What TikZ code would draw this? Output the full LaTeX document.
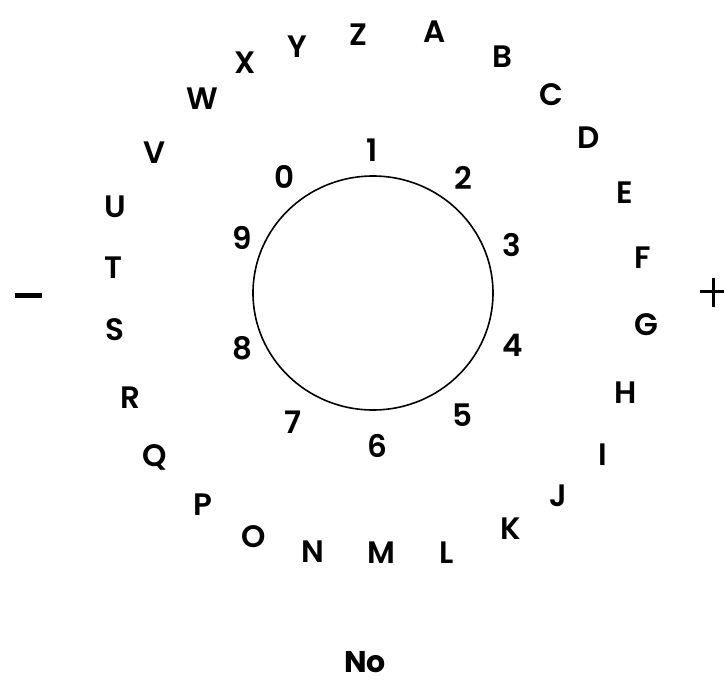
\documentclass[tikz,border=0pt]{standalone}
\usepackage{fontspec}
\IfFontExistsTF{Poppins SemiBold}
  {\newfontfamily\boardfont{Poppins SemiBold}}
  {\newfontfamily\boardfont{Poppins}[UprightFont=*-Bold]}
\newfontfamily\nofont{Poppins}

\tikzset{
  glyph/.style={font=\boardfont\fontsize{31}{31}\selectfont,inner sep=0pt},
  answer/.style={font=\nofont\bfseries\fontsize{30}{30}\selectfont,inner sep=0pt},
  sign/.style={line cap=butt,black}
}

\begin{document}
\begin{tikzpicture}[x=1pt,y=-1pt]
    \useasboundingbox (0,0) rectangle (724,695);

    % outer ring of letters
    \foreach \ch/\px/\py in {A/435/32,B/502/57,C/551/95,D/589/138,E/625/193,
        F/643/258,G/646/325,H/626/393,I/603/455,J/558/496,K/511/529,
        L/447/553,M/381/553,N/313/552,O/254/537,P/203/505,Q/155/457,
        R/130/398,S/115/330,T/113/268,U/115/207,V/155/153,W/202/99,
        X/245/63,Y/297/47,Z/358/35}
        \node[glyph] (l-\ch) at (\px,\py) {\ch};

    % inner ring of digits
    \foreach \dg/\px/\py in {1/372/150,2/463/178,3/512/245,4/513/345,
        5/462/415,6/377/446,7/293/422,8/242/348,9/242/238,0/285/177}
        \node[glyph] (d-\dg) at (\px,\py) {\dg};

    % centre window
    \coordinate (centre) at (373,293);
    \draw[line width=1.6pt] (centre) ellipse (120 and 117);

    % minus and plus marks
    \coordinate (minus-l) at (15,295.5);
    \coordinate (minus-r) at (42,295.5);
    \draw[sign,line width=5.5pt] (minus-l) -- (minus-r);
    \coordinate (plus-c) at (713,292);
    \draw[sign,line width=3pt] (700,292) -- (724,292)
        (plus-c) ++(0,-14) -- ++(0,29);

    \node[answer] (no) at (365,662) {No};
\end{tikzpicture}
\end{document}
